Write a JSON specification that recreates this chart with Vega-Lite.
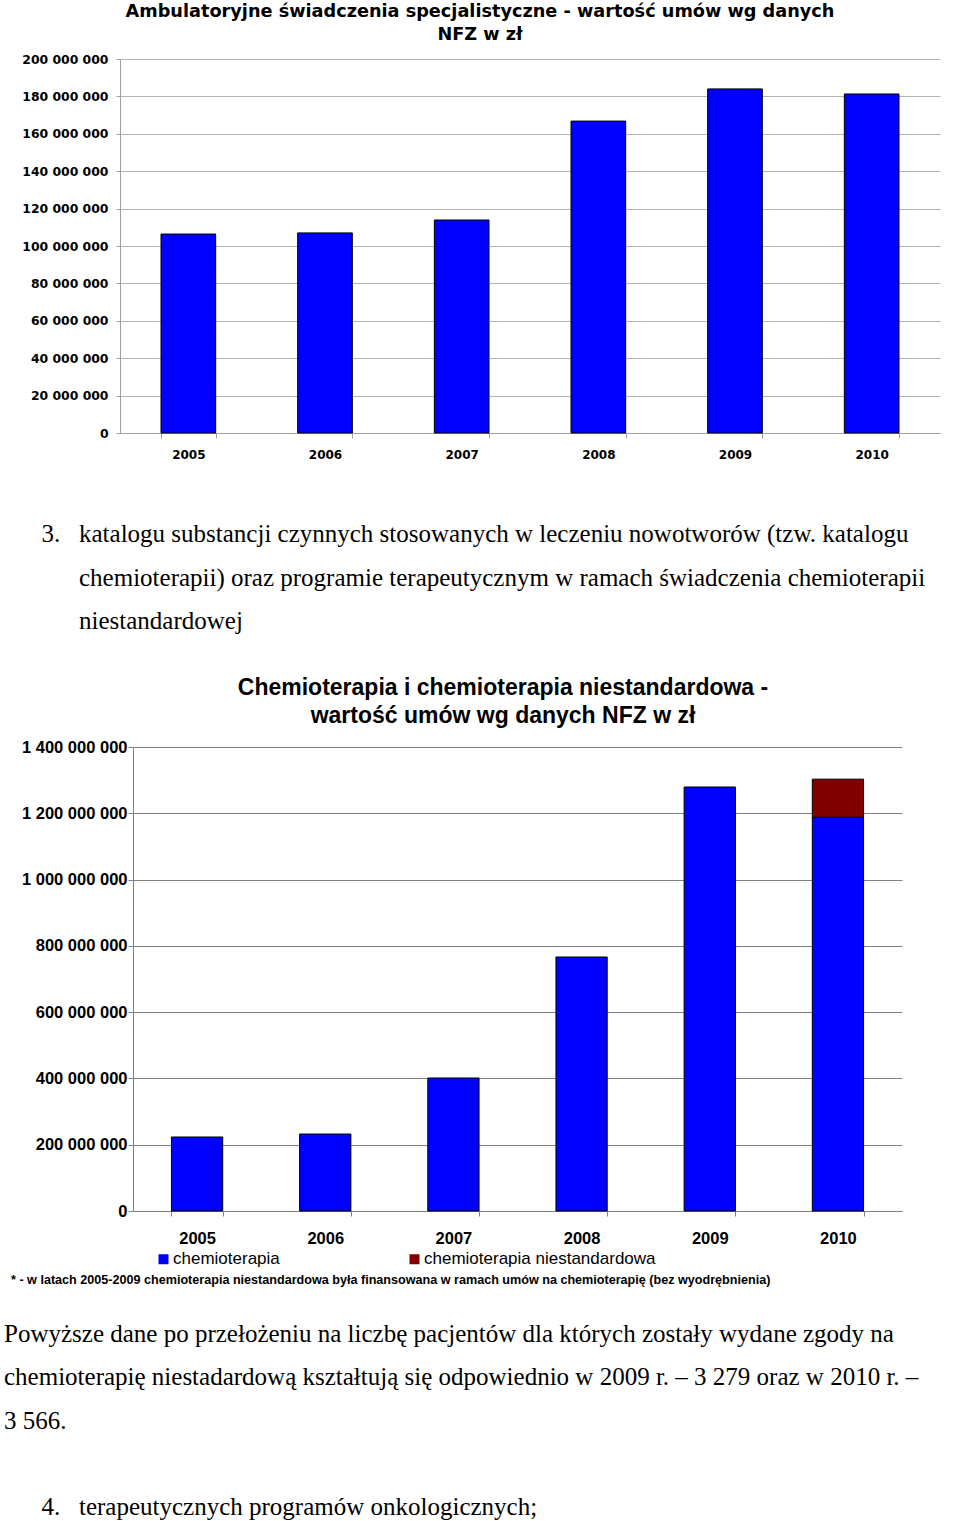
{
  "$schema": "https://vega.github.io/schema/vega-lite/v6.json",
  "padding": {"left": 0, "top": 3, "right": 0, "bottom": 0},
  "background": "#ffffff",
  "columns": 1,
  "align": "none",
  "spacing": 0,
  "resolve": {"scale": {"color": "independent"}, "legend": {"color": "independent"}},
  "config": {
    "view": {"stroke": null},
    "locale": {"number": {"decimal": ",", "thousands": " ", "grouping": [3], "currency": ["", " zł"]}}
  },
  "concat": [
    {
      "width": 820,
      "height": 374,
      "title": {
        "text": ["Ambulatoryjne świadczenia specjalistyczne - wartość umów wg danych", "NFZ w zł"],
        "font": "DejaVu Sans", "fontSize": 17.7, "fontWeight": "bold", "color": "#000000",
        "lineHeight": 23, "anchor": "middle", "frame": "group", "dx": -50, "offset": 9
      },
      "data": {"values": [
        {"rok": "2005", "wartosc": 106400000},
        {"rok": "2006", "wartosc": 107000000},
        {"rok": "2007", "wartosc": 113900000},
        {"rok": "2008", "wartosc": 166800000},
        {"rok": "2009", "wartosc": 184000000},
        {"rok": "2010", "wartosc": 181300000}
      ]},
      "mark": {"type": "bar", "color": "#0000ff", "stroke": "#000000", "strokeWidth": 1},
      "encoding": {
        "x": {
          "field": "rok", "type": "ordinal",
          "scale": {"paddingInner": 0.6, "paddingOuter": 0.3},
          "axis": {
            "title": null, "labelAngle": 0, "labelFont": "DejaVu Sans", "labelFontWeight": "bold",
            "labelFontSize": 12, "labelColor": "#000000", "tickBand": "extent", "tickSize": 5,
            "tickColor": "#a0a0a0", "domainColor": "#a0a0a0", "labelPadding": 11, "grid": false
          }
        },
        "y": {
          "field": "wartosc", "type": "quantitative",
          "scale": {"domain": [0, 200000000], "nice": false},
          "axis": {
            "title": null,
            "values": [0, 20000000, 40000000, 60000000, 80000000, 100000000, 120000000, 140000000, 160000000, 180000000, 200000000],
            "format": ",d", "labelFont": "DejaVu Sans", "labelFontWeight": "bold", "labelFontSize": 12.4,
            "labelColor": "#000000", "tickSize": 4, "labelPadding": 8, "tickColor": "#a0a0a0",
            "domainColor": "#a0a0a0", "gridColor": "#b4b4b4", "labelOverlap": false,
            "minExtent": 120, "maxExtent": 120
          }
        }
      }
    },
    {
      "width": 840,
      "height": 217,
      "data": {"values": [
        {"wiersz": 1, "typ": "numer", "tekst": "3."},
        {"wiersz": 1, "typ": "tresc", "tekst": "katalogu substancji czynnych stosowanych w leczeniu nowotworów (tzw. katalogu"},
        {"wiersz": 2, "typ": "tresc", "tekst": "chemioterapii) oraz programie terapeutycznym w ramach świadczenia chemioterapii"},
        {"wiersz": 3, "typ": "tresc", "tekst": "niestandardowej"}
      ]},
      "mark": {"type": "text", "font": "Liberation Serif", "fontSize": 25, "align": "left", "baseline": "alphabetic", "color": "#000000"},
      "encoding": {
        "x": {"field": "typ", "type": "nominal", "scale": {"type": "point", "domain": ["akapit", "numer", "tresc"], "range": [-116, -41], "padding": 0}, "axis": null},
        "y": {"field": "wiersz", "type": "quantitative", "scale": {"domain": [1, 3], "range": [82, 169]}, "axis": null},
        "text": {"field": "tekst"}
      }
    },
    {
      "width": 782,
      "height": 464,
      "title": {
        "text": ["Chemioterapia i chemioterapia niestandardowa -", "wartość umów wg danych NFZ w zł"],
        "font": "Liberation Sans", "fontSize": 23, "fontWeight": "bold", "color": "#000000",
        "lineHeight": 28, "anchor": "middle", "frame": "group", "dx": -8, "offset": 11
      },
      "data": {"values": [
        {"rok": "2005", "rodzaj": "chemioterapia", "wartosc": 223300000},
        {"rok": "2006", "rodzaj": "chemioterapia", "wartosc": 232300000},
        {"rok": "2007", "rodzaj": "chemioterapia", "wartosc": 401300000},
        {"rok": "2008", "rodzaj": "chemioterapia", "wartosc": 766400000},
        {"rok": "2009", "rodzaj": "chemioterapia", "wartosc": 1279300000},
        {"rok": "2010", "rodzaj": "chemioterapia", "wartosc": 1188000000},
        {"rok": "2010", "rodzaj": "chemioterapia niestandardowa", "wartosc": 115000000}
      ]},
      "mark": {"type": "bar", "stroke": "#000000", "strokeWidth": 1},
      "encoding": {
        "x": {
          "field": "rok", "type": "ordinal",
          "scale": {"range": [13, 782], "paddingInner": 0.6, "paddingOuter": 0.3},
          "axis": {
            "title": null, "labelAngle": 0, "labelFont": "Liberation Sans", "labelFontWeight": "bold",
            "labelFontSize": 16.5, "labelColor": "#000000", "tickBand": "extent", "tickSize": 5,
            "tickColor": "#808080", "domainColor": "#808080", "labelPadding": 14, "grid": false
          }
        },
        "y": {
          "field": "wartosc", "type": "quantitative", "stack": "zero",
          "scale": {"domain": [0, 1400000000], "nice": false},
          "axis": {
            "title": null, "offset": -13,
            "values": [0, 200000000, 400000000, 600000000, 800000000, 1000000000, 1200000000, 1400000000],
            "format": ",d", "labelFont": "Liberation Sans", "labelFontWeight": "bold", "labelFontSize": 16.5,
            "labelColor": "#000000", "tickSize": 5, "labelPadding": 1, "tickColor": "#808080",
            "domainColor": "#808080", "gridColor": "#808080", "labelOverlap": false,
            "minExtent": 0
          }
        },
        "color": {
          "field": "rodzaj", "type": "nominal",
          "scale": {"domain": ["chemioterapia", "chemioterapia niestandardowa"], "range": ["#0000ff", "#800000"]},
          "legend": {
            "orient": "none", "legendX": 29, "legendY": 497.5, "padding": 6, "direction": "horizontal",
            "title": null, "symbolType": "square", "symbolSize": 100, "symbolStrokeColor": "#000000",
            "symbolStrokeWidth": 1, "symbolOpacity": 1, "labelFont": "Liberation Sans", "labelFontSize": 17,
            "labelColor": "#000000", "labelOffset": 1, "columnPadding": 126, "labelLimit": 400,
            "encode": {"symbols": {"update": {"fill": {"signal": "datum.label === 'chemioterapia' ? '#0000ff' : '#993366'"}}}}
          }
        },
        "order": {"field": "rodzaj", "type": "nominal", "sort": "ascending"}
      }
    },
    {
      "width": 840,
      "height": 234,
      "title": {
        "text": "* - w latach 2005-2009 chemioterapia niestandardowa była finansowana w ramach umów na chemioterapię (bez wyodrębnienia)",
        "font": "Liberation Sans", "fontSize": 12.6, "fontWeight": "bold", "color": "#000000",
        "anchor": "start", "frame": "group", "dx": -109, "offset": 0
      },
      "data": {"values": [
        {"wiersz": 1, "typ": "akapit", "tekst": "Powyższe dane po przełożeniu na liczbę pacjentów dla których zostały wydane zgody na"},
        {"wiersz": 2, "typ": "akapit", "tekst": "chemioterapię niestadardową kształtują się odpowiednio w 2009 r. – 3 279 oraz w 2010 r. –"},
        {"wiersz": 3, "typ": "akapit", "tekst": "3 566."},
        {"wiersz": 5, "typ": "numer", "tekst": "4."},
        {"wiersz": 5, "typ": "tresc", "tekst": "terapeutycznych programów onkologicznych;"}
      ]},
      "mark": {"type": "text", "font": "Liberation Serif", "fontSize": 25, "align": "left", "baseline": "alphabetic", "color": "#000000"},
      "encoding": {
        "x": {"field": "typ", "type": "nominal", "scale": {"type": "point", "domain": ["akapit", "numer", "tresc"], "range": [-116, -41], "padding": 0}, "axis": null},
        "y": {"field": "wiersz", "type": "quantitative", "scale": {"domain": [1, 5], "range": [55, 228]}, "axis": null},
        "text": {"field": "tekst"}
      }
    }
  ]
}
